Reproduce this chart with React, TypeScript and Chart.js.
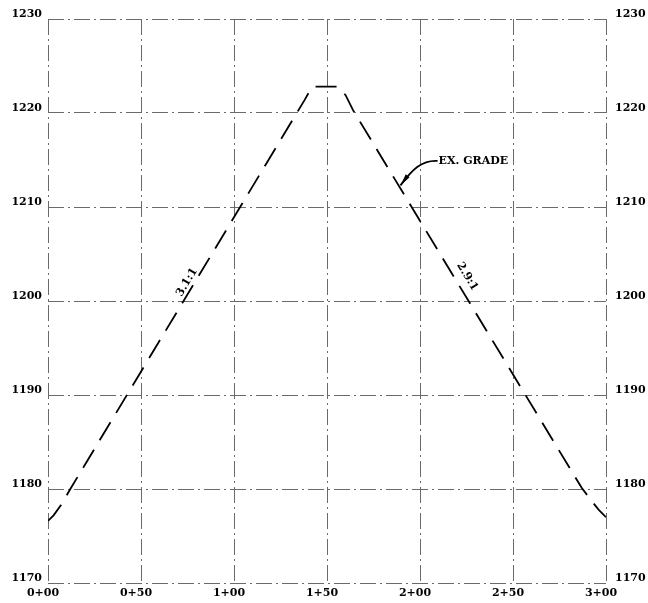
import React, { useEffect, useRef } from 'react';
import { Chart, registerables } from 'chart.js';

Chart.register(...registerables);

// Existing grade profile (station in ft, elevation in ft)
const stations = [0, 3, 7, 12, 138, 142, 156, 160, 164, 287, 292, 296, 300];
const elevations = [1176.6, 1177.2, 1178.3, 1180.0, 1221.4, 1222.8, 1222.8, 1221.9, 1220.3, 1180.1, 1178.8, 1177.8, 1177.0];

const xTickValues = [0, 50, 100, 150, 200, 250, 300];
const xTickLabels = ['0+00', '0+50', '1+00', '1+50', '2+00', '2+50', '3+00'];
const yTickValues = [1170, 1180, 1190, 1200, 1210, 1220, 1230];
const yTickLabels = ['1170', '1180', '1190', '1200', '1210', '1220', '1230'];

const slopeLabels = ['3.1:1', '2.9:1'];
const slopeLabelStations = [74.7, 225.4];
const slopeLabelElevations = [1202.0, 1202.6];
// segments used to orient each slope label: [startIndex, endIndex] into stations
const slopeSegments = [[3, 4], [8, 9]];

const calloutText = 'EX. GRADE';
const calloutStation = 210;
const calloutElevation = 1214.9;
const calloutTargetStation = 189.5;
const calloutTargetElevation = 1212.3;

const FONT = { family: 'DejaVu Serif', size: 11, weight: 'bold' as const };
const GRID_DASH = [16, 4, 2, 4];
const GRID_COLOR = '#6a6a6a';

const annotationPlugin = {
  id: 'profileAnnotations',
  afterDatasetsDraw(chart: any) {
    const { ctx } = chart;
    const xs = chart.scales.x;
    const ys = chart.scales.y;
    ctx.save();
    ctx.fillStyle = '#000';
    ctx.strokeStyle = '#000';
    ctx.font = `bold 11px "DejaVu Serif"`;
    ctx.textAlign = 'center';
    ctx.textBaseline = 'middle';
    slopeLabels.forEach((txt, i) => {
      const [a, b] = slopeSegments[i];
      const x1 = xs.getPixelForValue(stations[a]);
      const y1 = ys.getPixelForValue(elevations[a]);
      const x2 = xs.getPixelForValue(stations[b]);
      const y2 = ys.getPixelForValue(elevations[b]);
      let ang = Math.atan2(y2 - y1, x2 - x1);
      if (ang > Math.PI / 2) ang -= Math.PI;
      if (ang < -Math.PI / 2) ang += Math.PI;
      const px = xs.getPixelForValue(slopeLabelStations[i]);
      const py = ys.getPixelForValue(slopeLabelElevations[i]);
      ctx.save();
      ctx.translate(px, py);
      ctx.rotate(ang);
      ctx.fillText(txt, 0, 0);
      ctx.restore();
    });

    // Callout
    const tx = xs.getPixelForValue(calloutStation);
    const ty = ys.getPixelForValue(calloutElevation);
    ctx.textAlign = 'left';
    ctx.fillText(calloutText, tx, ty);
    const ex = xs.getPixelForValue(calloutTargetStation);
    const ey = ys.getPixelForValue(calloutTargetElevation);
    const sx = tx - 1;
    const sy = ty;
    ctx.lineWidth = 1.8;
    ctx.beginPath();
    ctx.moveTo(sx, sy);
    ctx.bezierCurveTo(sx - 16, sy - 1, ex + 12, ey - 16, ex, ey);
    ctx.stroke();
    // tapered arrow near the end
    const dx = -12;
    const dy = 16;
    const len = Math.hypot(dx, dy);
    const ux = dx / len;
    const uy = dy / len;
    const bx = ex - ux * 12;
    const by = ey - uy * 12;
    ctx.beginPath();
    ctx.moveTo(ex, ey);
    ctx.lineTo(bx - uy * 2.4, by + ux * 2.4);
    ctx.lineTo(bx + uy * 2.4, by - ux * 2.4);
    ctx.closePath();
    ctx.fill();
    ctx.restore();
  },
};

export default function App() {
  const canvasRef = useRef<HTMLCanvasElement | null>(null);

  useEffect(() => {
    const canvas = canvasRef.current;
    if (!canvas) return;
    const chart = new Chart(canvas, {
      type: 'line',
      data: {
        datasets: [
          {
            label: 'EX. GRADE',
            data: stations.map((s, i) => ({ x: s, y: elevations[i] })),
            borderColor: '#000',
            borderWidth: 1.8,
            borderDash: [21, 11],
            pointRadius: 0,
            tension: 0,
            fill: false,
          },
        ],
      },
      options: {
        responsive: false,
        animation: false,
        layout: { padding: { top: 19, left: 0, right: 0, bottom: 0 } },
        plugins: { legend: { display: false }, tooltip: { enabled: false } },
        scales: {
          x: {
            type: 'linear',
            min: 0,
            max: 300,
            afterBuildTicks: (s: any) => {
              s.ticks = xTickValues.map((v) => ({ value: v }));
            },
            afterFit: (s: any) => {
              s.height = 20;
              s.paddingLeft = 0;
              s.paddingRight = 0;
            },
            ticks: {
              autoSkip: false,
              maxRotation: 0,
              padding: 4,
              labelOffset: -5,
              color: '#000',
              font: FONT,
              callback: (v: any) => {
                const i = xTickValues.indexOf(Number(v));
                return i >= 0 ? xTickLabels[i] : '';
              },
            },
            grid: { color: GRID_COLOR, lineWidth: 1, drawTicks: false },
            border: { display: false, dash: GRID_DASH },
          },
          y: {
            type: 'linear',
            position: 'left',
            min: 1170,
            max: 1230,
            afterBuildTicks: (s: any) => {
              s.ticks = yTickValues.map((v) => ({ value: v }));
            },
            afterFit: (s: any) => {
              s.width = 48;
              s.paddingTop = 0;
              s.paddingBottom = 0;
            },
            ticks: {
              autoSkip: false,
              padding: 6,
              labelOffset: -5,
              color: '#000',
              font: FONT,
              callback: (v: any) => {
                const i = yTickValues.indexOf(Number(v));
                return i >= 0 ? yTickLabels[i] : '';
              },
            },
            grid: { color: GRID_COLOR, lineWidth: 1, drawTicks: false },
            border: { display: false, dash: GRID_DASH },
          },
          y2: {
            type: 'linear',
            position: 'right',
            min: 1170,
            max: 1230,
            afterBuildTicks: (s: any) => {
              s.ticks = yTickValues.map((v) => ({ value: v }));
            },
            afterFit: (s: any) => {
              s.width = 42;
              s.paddingTop = 0;
              s.paddingBottom = 0;
            },
            ticks: {
              autoSkip: false,
              padding: 9,
              labelOffset: -5,
              color: '#000',
              font: FONT,
              callback: (v: any) => {
                const i = yTickValues.indexOf(Number(v));
                return i >= 0 ? yTickLabels[i] : '';
              },
            },
            grid: { display: false, drawTicks: false },
            border: { display: false },
          },
        },
      },
      plugins: [annotationPlugin],
    });
    return () => chart.destroy();
  }, []);

  return (
    <div style={{ position: 'fixed', left: 0, top: 0, width: 648, height: 603, background: '#fff' }}>
      <canvas ref={canvasRef} width={648} height={603} style={{ display: 'block' }} />
    </div>
  );
}
